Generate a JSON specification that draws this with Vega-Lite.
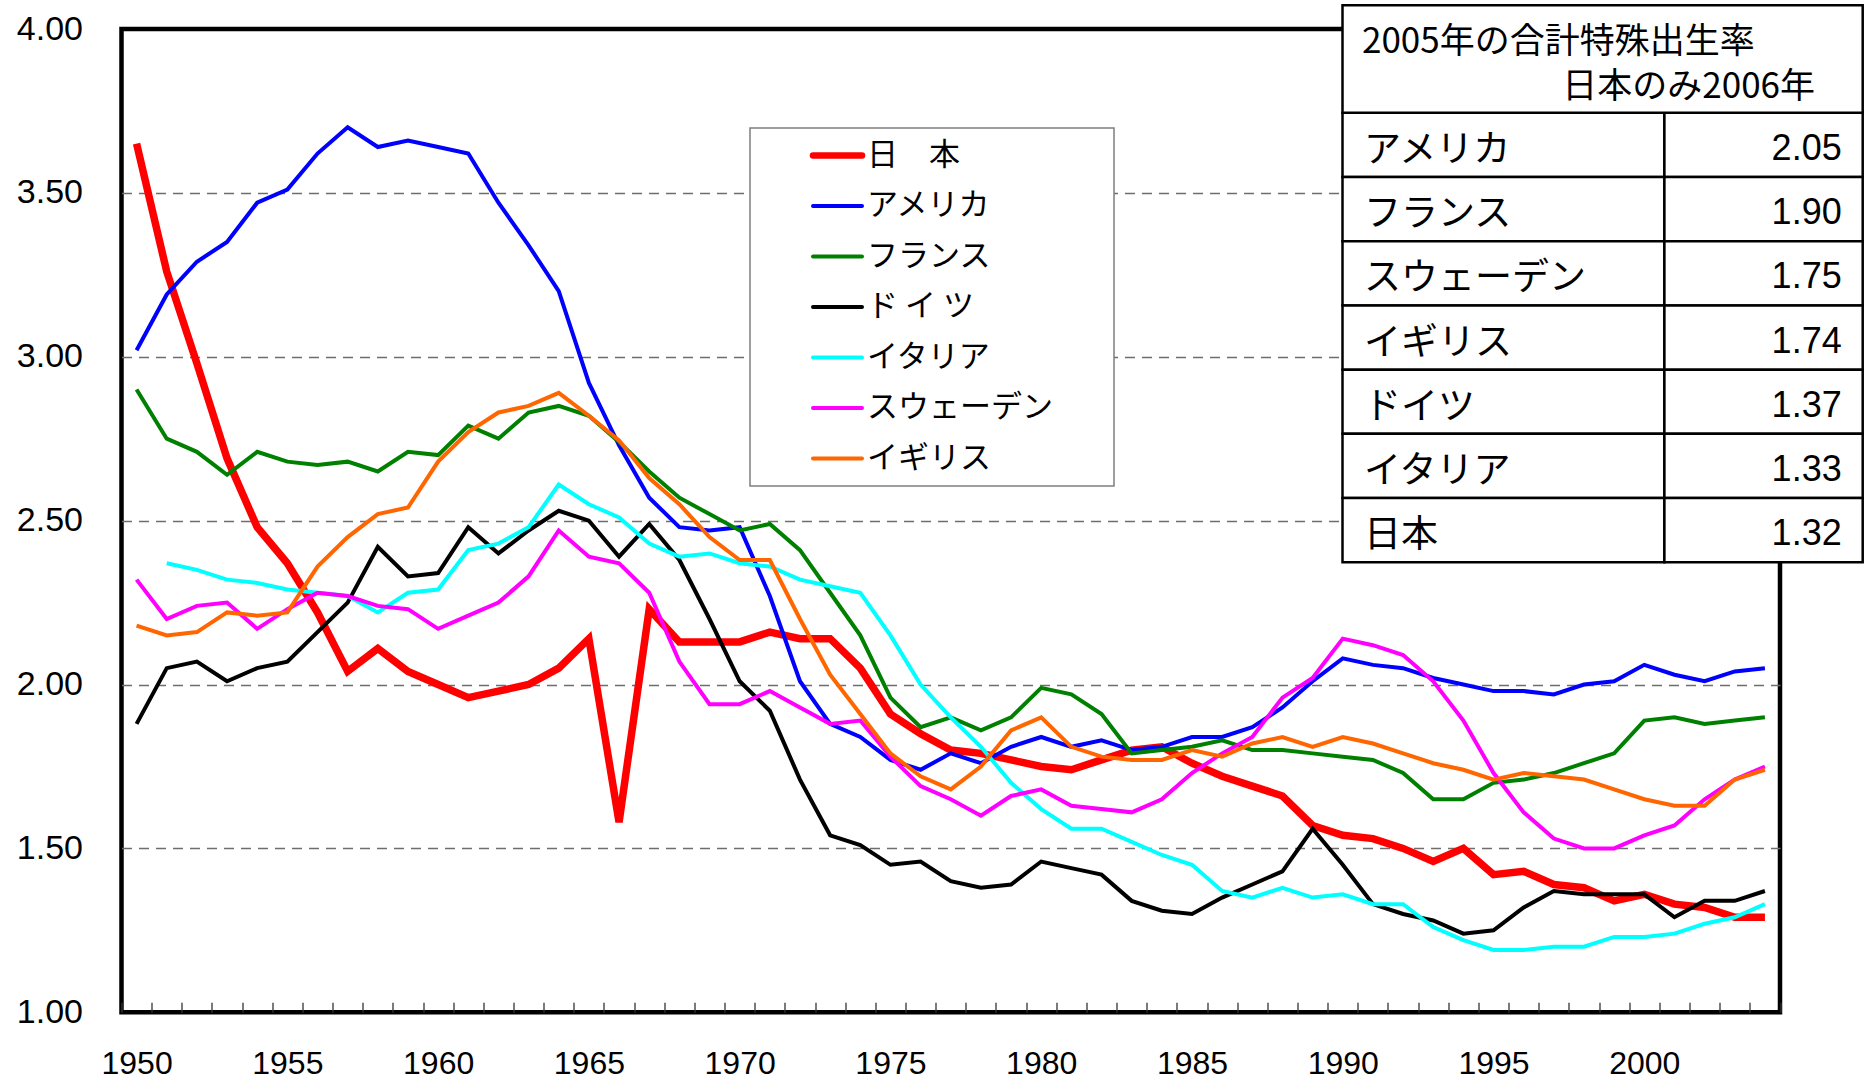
{
  "$schema": "https://vega.github.io/schema/vega-lite/v6.json",
  "width": 1658.5,
  "height": 983.3,
  "autosize": {"type": "none"},
  "padding": {"left": 121.5, "top": 29, "right": 87, "bottom": 67.7},
  "background": "white",
  "config": {
    "view": {"stroke": "black", "strokeWidth": 4.5},
    "font": "Liberation Sans"
  },
  "datasets": {
    "tfr": [
      {"year": 1950, "日本": 3.65, "アメリカ": 3.02, "フランス": 2.90, "ドイツ": 1.88, "スウェーデン": 2.32, "イギリス": 2.18},
      {"year": 1951, "日本": 3.26, "アメリカ": 3.19, "フランス": 2.75, "ドイツ": 2.05, "イタリア": 2.37, "スウェーデン": 2.20, "イギリス": 2.15},
      {"year": 1952, "日本": 2.98, "アメリカ": 3.29, "フランス": 2.71, "ドイツ": 2.07, "イタリア": 2.35, "スウェーデン": 2.24, "イギリス": 2.16},
      {"year": 1953, "日本": 2.69, "アメリカ": 3.35, "フランス": 2.64, "ドイツ": 2.01, "イタリア": 2.32, "スウェーデン": 2.25, "イギリス": 2.22},
      {"year": 1954, "日本": 2.48, "アメリカ": 3.47, "フランス": 2.71, "ドイツ": 2.05, "イタリア": 2.31, "スウェーデン": 2.17, "イギリス": 2.21},
      {"year": 1955, "日本": 2.37, "アメリカ": 3.51, "フランス": 2.68, "ドイツ": 2.07, "イタリア": 2.29, "スウェーデン": 2.23, "イギリス": 2.22},
      {"year": 1956, "日本": 2.22, "アメリカ": 3.62, "フランス": 2.67, "ドイツ": 2.16, "イタリア": 2.28, "スウェーデン": 2.28, "イギリス": 2.36},
      {"year": 1957, "日本": 2.04, "アメリカ": 3.70, "フランス": 2.68, "ドイツ": 2.25, "イタリア": 2.27, "スウェーデン": 2.27, "イギリス": 2.45},
      {"year": 1958, "日本": 2.11, "アメリカ": 3.64, "フランス": 2.65, "ドイツ": 2.42, "イタリア": 2.22, "スウェーデン": 2.24, "イギリス": 2.52},
      {"year": 1959, "日本": 2.04, "アメリカ": 3.66, "フランス": 2.71, "ドイツ": 2.33, "イタリア": 2.28, "スウェーデン": 2.23, "イギリス": 2.54},
      {"year": 1960, "日本": 2.00, "アメリカ": 3.64, "フランス": 2.70, "ドイツ": 2.34, "イタリア": 2.29, "スウェーデン": 2.17, "イギリス": 2.68},
      {"year": 1961, "日本": 1.96, "アメリカ": 3.62, "フランス": 2.79, "ドイツ": 2.48, "イタリア": 2.41, "スウェーデン": 2.21, "イギリス": 2.77},
      {"year": 1962, "日本": 1.98, "アメリカ": 3.47, "フランス": 2.75, "ドイツ": 2.40, "イタリア": 2.43, "スウェーデン": 2.25, "イギリス": 2.83},
      {"year": 1963, "日本": 2.00, "アメリカ": 3.34, "フランス": 2.83, "ドイツ": 2.47, "イタリア": 2.48, "スウェーデン": 2.33, "イギリス": 2.85},
      {"year": 1964, "日本": 2.05, "アメリカ": 3.20, "フランス": 2.85, "ドイツ": 2.53, "イタリア": 2.61, "スウェーデン": 2.47, "イギリス": 2.89},
      {"year": 1965, "日本": 2.14, "アメリカ": 2.92, "フランス": 2.82, "ドイツ": 2.50, "イタリア": 2.55, "スウェーデン": 2.39, "イギリス": 2.82},
      {"year": 1966, "日本": 1.58, "アメリカ": 2.73, "フランス": 2.74, "ドイツ": 2.39, "イタリア": 2.51, "スウェーデン": 2.37, "イギリス": 2.745},
      {"year": 1967, "日本": 2.23, "アメリカ": 2.57, "フランス": 2.65, "ドイツ": 2.49, "イタリア": 2.43, "スウェーデン": 2.28, "イギリス": 2.63},
      {"year": 1968, "日本": 2.13, "アメリカ": 2.48, "フランス": 2.57, "ドイツ": 2.38, "イタリア": 2.39, "スウェーデン": 2.07, "イギリス": 2.55},
      {"year": 1969, "日本": 2.13, "アメリカ": 2.47, "フランス": 2.52, "ドイツ": 2.20, "イタリア": 2.40, "スウェーデン": 1.94, "イギリス": 2.45},
      {"year": 1970, "日本": 2.13, "アメリカ": 2.48, "フランス": 2.47, "ドイツ": 2.01, "イタリア": 2.37, "スウェーデン": 1.94, "イギリス": 2.38},
      {"year": 1971, "日本": 2.16, "アメリカ": 2.27, "フランス": 2.49, "ドイツ": 1.92, "イタリア": 2.36, "スウェーデン": 1.98, "イギリス": 2.38},
      {"year": 1972, "日本": 2.14, "アメリカ": 2.01, "フランス": 2.41, "ドイツ": 1.71, "イタリア": 2.32, "スウェーデン": 1.93, "イギリス": 2.20},
      {"year": 1973, "日本": 2.14, "アメリカ": 1.88, "フランス": 2.28, "ドイツ": 1.54, "イタリア": 2.30, "スウェーデン": 1.88, "イギリス": 2.03},
      {"year": 1974, "日本": 2.05, "アメリカ": 1.84, "フランス": 2.15, "ドイツ": 1.51, "イタリア": 2.28, "スウェーデン": 1.89, "イギリス": 1.91},
      {"year": 1975, "日本": 1.91, "アメリカ": 1.77, "フランス": 1.96, "ドイツ": 1.45, "イタリア": 2.15, "スウェーデン": 1.78, "イギリス": 1.79},
      {"year": 1976, "日本": 1.85, "アメリカ": 1.74, "フランス": 1.87, "ドイツ": 1.46, "イタリア": 2.00, "スウェーデン": 1.69, "イギリス": 1.72},
      {"year": 1977, "日本": 1.80, "アメリカ": 1.79, "フランス": 1.90, "ドイツ": 1.40, "イタリア": 1.90, "スウェーデン": 1.65, "イギリス": 1.68},
      {"year": 1978, "日本": 1.79, "アメリカ": 1.76, "フランス": 1.86, "ドイツ": 1.38, "イタリア": 1.81, "スウェーデン": 1.60, "イギリス": 1.75},
      {"year": 1979, "日本": 1.77, "アメリカ": 1.81, "フランス": 1.90, "ドイツ": 1.39, "イタリア": 1.70, "スウェーデン": 1.66, "イギリス": 1.86},
      {"year": 1980, "日本": 1.75, "アメリカ": 1.84, "フランス": 1.99, "ドイツ": 1.46, "イタリア": 1.62, "スウェーデン": 1.68, "イギリス": 1.90},
      {"year": 1981, "日本": 1.74, "アメリカ": 1.81, "フランス": 1.97, "ドイツ": 1.44, "イタリア": 1.56, "スウェーデン": 1.63, "イギリス": 1.81},
      {"year": 1982, "日本": 1.77, "アメリカ": 1.83, "フランス": 1.91, "ドイツ": 1.42, "イタリア": 1.56, "スウェーデン": 1.62, "イギリス": 1.78},
      {"year": 1983, "日本": 1.80, "アメリカ": 1.80, "フランス": 1.79, "ドイツ": 1.34, "イタリア": 1.52, "スウェーデン": 1.61, "イギリス": 1.77},
      {"year": 1984, "日本": 1.81, "アメリカ": 1.81, "フランス": 1.80, "ドイツ": 1.31, "イタリア": 1.48, "スウェーデン": 1.65, "イギリス": 1.77},
      {"year": 1985, "日本": 1.76, "アメリカ": 1.84, "フランス": 1.81, "ドイツ": 1.30, "イタリア": 1.45, "スウェーデン": 1.73, "イギリス": 1.80},
      {"year": 1986, "日本": 1.72, "アメリカ": 1.84, "フランス": 1.83, "ドイツ": 1.35, "イタリア": 1.37, "スウェーデン": 1.79, "イギリス": 1.78},
      {"year": 1987, "日本": 1.69, "アメリカ": 1.87, "フランス": 1.80, "ドイツ": 1.39, "イタリア": 1.35, "スウェーデン": 1.84, "イギリス": 1.82},
      {"year": 1988, "日本": 1.66, "アメリカ": 1.93, "フランス": 1.80, "ドイツ": 1.43, "イタリア": 1.38, "スウェーデン": 1.96, "イギリス": 1.84},
      {"year": 1989, "日本": 1.57, "アメリカ": 2.01, "フランス": 1.79, "ドイツ": 1.56, "イタリア": 1.35, "スウェーデン": 2.02, "イギリス": 1.81},
      {"year": 1990, "日本": 1.54, "アメリカ": 2.08, "フランス": 1.78, "ドイツ": 1.45, "イタリア": 1.36, "スウェーデン": 2.14, "イギリス": 1.84},
      {"year": 1991, "日本": 1.53, "アメリカ": 2.06, "フランス": 1.77, "ドイツ": 1.33, "イタリア": 1.33, "スウェーデン": 2.12, "イギリス": 1.82},
      {"year": 1992, "日本": 1.50, "アメリカ": 2.05, "フランス": 1.73, "ドイツ": 1.30, "イタリア": 1.33, "スウェーデン": 2.09, "イギリス": 1.79},
      {"year": 1993, "日本": 1.46, "アメリカ": 2.02, "フランス": 1.65, "ドイツ": 1.28, "イタリア": 1.26, "スウェーデン": 2.01, "イギリス": 1.76},
      {"year": 1994, "日本": 1.50, "アメリカ": 2.00, "フランス": 1.65, "ドイツ": 1.24, "イタリア": 1.22, "スウェーデン": 1.89, "イギリス": 1.74},
      {"year": 1995, "日本": 1.42, "アメリカ": 1.98, "フランス": 1.70, "ドイツ": 1.25, "イタリア": 1.19, "スウェーデン": 1.73, "イギリス": 1.71},
      {"year": 1996, "日本": 1.43, "アメリカ": 1.98, "フランス": 1.71, "ドイツ": 1.32, "イタリア": 1.19, "スウェーデン": 1.61, "イギリス": 1.73},
      {"year": 1997, "日本": 1.39, "アメリカ": 1.97, "フランス": 1.73, "ドイツ": 1.37, "イタリア": 1.20, "スウェーデン": 1.53, "イギリス": 1.72},
      {"year": 1998, "日本": 1.38, "アメリカ": 2.00, "フランス": 1.76, "ドイツ": 1.36, "イタリア": 1.20, "スウェーデン": 1.50, "イギリス": 1.71},
      {"year": 1999, "日本": 1.34, "アメリカ": 2.01, "フランス": 1.79, "ドイツ": 1.36, "イタリア": 1.23, "スウェーデン": 1.50, "イギリス": 1.68},
      {"year": 2000, "日本": 1.36, "アメリカ": 2.06, "フランス": 1.89, "ドイツ": 1.36, "イタリア": 1.23, "スウェーデン": 1.54, "イギリス": 1.65},
      {"year": 2001, "日本": 1.33, "アメリカ": 2.03, "フランス": 1.90, "ドイツ": 1.29, "イタリア": 1.24, "スウェーデン": 1.57, "イギリス": 1.63},
      {"year": 2002, "日本": 1.32, "アメリカ": 2.01, "フランス": 1.88, "ドイツ": 1.34, "イタリア": 1.27, "スウェーデン": 1.65, "イギリス": 1.63},
      {"year": 2003, "日本": 1.29, "アメリカ": 2.04, "フランス": 1.89, "ドイツ": 1.34, "イタリア": 1.29, "スウェーデン": 1.71, "イギリス": 1.71},
      {"year": 2004, "日本": 1.29, "アメリカ": 2.05, "フランス": 1.90, "ドイツ": 1.37, "イタリア": 1.33, "スウェーデン": 1.75, "イギリス": 1.74}
    ],
    "table": [
      {"国": "アメリカ", "値": 2.05},
      {"国": "フランス", "値": 1.90},
      {"国": "スウェーデン", "値": 1.75},
      {"国": "イギリス", "値": 1.74},
      {"国": "ドイツ", "値": 1.37},
      {"国": "イタリア", "値": 1.33},
      {"国": "日本", "値": 1.32}
    ]
  },
  "layer": [
    {
      "data": {"name": "tfr"},
      "transform": [
        {"fold": ["日本", "アメリカ", "フランス", "ドイツ", "イタリア", "スウェーデン", "イギリス"], "as": ["国", "出生率"]}
      ],
      "mark": {"type": "line", "strokeJoin": "miter", "strokeCap": "butt"},
      "encoding": {
        "x": {
          "field": "year", "type": "quantitative",
          "scale": {"domain": [1949.5, 2004.5], "nice": false, "zero": false},
          "axis": {
            "title": null,
            "values": [1949.5,1950.5,1951.5,1952.5,1953.5,1954.5,1955.5,1956.5,1957.5,1958.5,1959.5,1960.5,1961.5,1962.5,1963.5,1964.5,1965.5,1966.5,1967.5,1968.5,1969.5,1970.5,1971.5,1972.5,1973.5,1974.5,1975.5,1976.5,1977.5,1978.5,1979.5,1980.5,1981.5,1982.5,1983.5,1984.5,1985.5,1986.5,1987.5,1988.5,1989.5,1990.5,1991.5,1992.5,1993.5,1994.5,1995.5,1996.5,1997.5,1998.5,1999.5,2000.5,2001.5,2002.5,2003.5,2004.5],
            "labelExpr": "((datum.value + 0.5) % 5 === 0 && datum.value < 2004) ? ('' + (datum.value + 0.5)) : ''",
            "labelOffset": 15.08,
            "labelOverlap": false,
            "labelBound": false,
            "labelFlush": false,
            "labelFont": "Liberation Sans",
            "labelFontSize": 32,
            "labelColor": "black",
            "labelPadding": 46,
            "ticks": true,
            "tickSize": -10,
            "tickColor": "#333333",
            "tickWidth": 1.3,
            "domain": false,
            "grid": false
          }
        },
        "y": {
          "field": "出生率", "type": "quantitative",
          "scale": {"domain": [1, 4], "nice": false, "zero": false},
          "axis": {
            "title": null,
            "values": [1, 1.5, 2, 2.5, 3, 3.5, 4],
            "format": ".2f",
            "labelFont": "Liberation Sans",
            "labelFontSize": 34,
            "labelColor": "black",
            "labelPadding": 39,
            "ticks": false,
            "tickSize": 0,
            "domain": false,
            "grid": true,
            "gridColor": "#6e6e6e",
            "gridWidth": 1.5,
            "gridDash": [10, 7],
            "gridOpacity": {"condition": {"test": "datum.value === 1 || datum.value === 4", "value": 0}, "value": 1}
          }
        },
        "color": {
          "field": "国", "type": "nominal",
          "scale": {
            "domain": ["日本", "アメリカ", "フランス", "ドイツ", "イタリア", "スウェーデン", "イギリス"],
            "range": ["#FF0000", "#0000FF", "#008000", "#000000", "#00FFFF", "#FF00FF", "#FF6600"]
          },
          "legend": {
            "orient": "none",
            "legendX": 628.5,
            "legendY": 99,
            "title": "　",
            "titleOrient": "right",
            "titleFontSize": 31,
            "titleFont": "Noto Sans CJK JP",
            "titlePadding": 49,
            "symbolType": "stroke",
            "symbolSize": 2401,
            "symbolStrokeWidth": 4,
            "symbolOffset": 60,
            "labelOffset": 14,
            "labelFont": "Noto Sans CJK JP",
            "labelFontSize": 31,
            "labelColor": "black",
            "labelLimit": 500,
            "rowPadding": 18.5,
            "padding": 12,
            "fillColor": "white",
            "strokeColor": "#7f7f7f",
            "labelExpr": "datum.label === '日本' ? '日　本' : datum.label === 'ドイツ' ? 'ド イ ツ' : datum.label",
            "encode": {
              "legend": {"update": {"strokeWidth": {"value": 1.5}}},
              "symbols": {"update": {"strokeWidth": {"signal": "datum.value === '日本' ? 6.5 : 4"}, "strokeCap": {"value": "round"}}}
            }
          }
        },
        "strokeWidth": {"condition": {"test": "datum['国'] === '日本'", "value": 7.5}, "value": 4}
      }
    },
    {
      "data": {"name": "table"},
      "layer": [
        {
          "mark": {"type": "rect", "fill": "white", "stroke": "black", "strokeWidth": 2.5},
          "encoding": {
            "y": {"field": "国", "type": "nominal", "sort": null, "scale": {"type": "band", "domain": ["アメリカ", "フランス", "スウェーデン", "イギリス", "ドイツ", "イタリア", "日本"], "range": [83.8, 533.3], "paddingInner": 0, "paddingOuter": 0}, "axis": null},
            "x": {"datum": 0, "type": "quantitative", "scale": {"domain": [0, 1], "range": [1221, 1741.2]}, "axis": null},
            "x2": {"datum": 0.6188}
          }
        },
        {
          "mark": {"type": "rect", "fill": "white", "stroke": "black", "strokeWidth": 2.5},
          "encoding": {
            "y": {"field": "国", "type": "nominal", "sort": null, "scale": {"type": "band", "domain": ["アメリカ", "フランス", "スウェーデン", "イギリス", "ドイツ", "イタリア", "日本"], "range": [83.8, 533.3], "paddingInner": 0, "paddingOuter": 0}, "axis": null},
            "x": {"datum": 0.6188, "type": "quantitative", "scale": {"domain": [0, 1], "range": [1221, 1741.2]}, "axis": null},
            "x2": {"datum": 1}
          }
        },
        {
          "mark": {"type": "text", "align": "left", "baseline": "middle", "dx": 21.5, "dy": 6, "font": "Noto Sans CJK JP", "fontSize": 37, "color": "black"},
          "encoding": {
            "y": {"field": "国", "type": "nominal", "sort": null, "scale": {"type": "band", "domain": ["アメリカ", "フランス", "スウェーデン", "イギリス", "ドイツ", "イタリア", "日本"], "range": [83.8, 533.3], "paddingInner": 0, "paddingOuter": 0}, "axis": null},
            "x": {"datum": 0, "type": "quantitative", "scale": {"domain": [0, 1], "range": [1221, 1741.2]}, "axis": null},
            "text": {"field": "国"}
          }
        },
        {
          "mark": {"type": "text", "align": "right", "baseline": "middle", "dx": -21, "dy": 4, "font": "Liberation Sans", "fontSize": 36, "color": "black"},
          "encoding": {
            "y": {"field": "国", "type": "nominal", "sort": null, "scale": {"type": "band", "domain": ["アメリカ", "フランス", "スウェーデン", "イギリス", "ドイツ", "イタリア", "日本"], "range": [83.8, 533.3], "paddingInner": 0, "paddingOuter": 0}, "axis": null},
            "x": {"datum": 1, "type": "quantitative", "scale": {"domain": [0, 1], "range": [1221, 1741.2]}, "axis": null},
            "text": {"field": "値", "format": ".2f"}
          }
        }
      ]
    },
    {
      "data": {"values": [{}]},
      "layer": [
        {
          "mark": {"type": "rect", "fill": "white", "stroke": "black", "strokeWidth": 2.5},
          "encoding": {
            "x": {"datum": 0, "type": "quantitative", "scale": {"domain": [0, 1], "range": [1221, 1741.2]}, "axis": null},
            "x2": {"datum": 1},
            "y": {"datum": 0, "type": "quantitative", "scale": {"domain": [0, 1], "range": [-23.8, 83.8]}, "axis": null},
            "y2": {"datum": 1}
          }
        },
        {
          "mark": {"type": "text", "align": "left", "baseline": "middle", "dx": 19.5, "dy": 1, "font": "Noto Sans CJK JP", "fontSize": 35, "color": "black"},
          "encoding": {
            "x": {"datum": 0, "type": "quantitative", "scale": {"domain": [0, 1], "range": [1221, 1741.2]}, "axis": null},
            "y": {"datum": 0.33, "type": "quantitative", "scale": {"domain": [0, 1], "range": [-23.8, 83.8]}, "axis": null},
            "text": {"value": "2005年の合計特殊出生率"}
          }
        },
        {
          "mark": {"type": "text", "align": "right", "baseline": "middle", "dx": -47.7, "dy": 3, "font": "Noto Sans CJK JP", "fontSize": 35, "color": "black"},
          "encoding": {
            "x": {"datum": 1, "type": "quantitative", "scale": {"domain": [0, 1], "range": [1221, 1741.2]}, "axis": null},
            "y": {"datum": 0.732, "type": "quantitative", "scale": {"domain": [0, 1], "range": [-23.8, 83.8]}, "axis": null},
            "text": {"value": "日本のみ2006年"}
          }
        }
      ]
    }
  ],
  "resolve": {"scale": {"x": "independent", "y": "independent"}}
}
